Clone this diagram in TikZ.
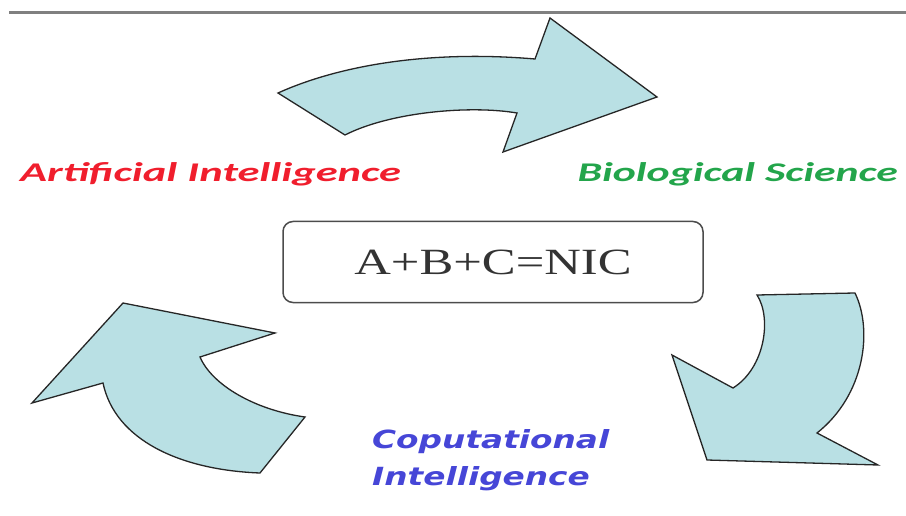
\documentclass[tikz,border=0pt]{standalone}
\usepackage{fontspec}
\setmainfont{Liberation Serif}
\newfontfamily\fieldfont{Carlito}
\newfontfamily\cifont{DejaVu Sans}
\usetikzlibrary{positioning}

\definecolor{arrowfill}{RGB}{185,224,228}
\definecolor{aired}{RGB}{240,30,45}
\definecolor{biogreen}{RGB}{35,165,75}
\definecolor{ciblue}{RGB}{70,70,215}

\newcommand{\widetext}[2]{\scalebox{#1}[1]{#2}}

\tikzset{
  cycarrow/.style={fill=arrowfill, draw=black!85, line width=1.3pt, line join=miter},
  field/.style={font=\fieldfont\bfseries\itshape\fontsize{27}{30}\selectfont, inner sep=0pt},
  cilabel/.style={font=\cifont\bfseries\itshape\fontsize{25}{37}\selectfont, inner sep=0pt, align=left},
  formula/.style={draw=black!70, line width=1.5pt, rounded corners=10pt, minimum width=420pt,
    minimum height=81pt, text=black!80, font=\fontsize{37}{40}\selectfont}
}

\begin{document}
\begin{tikzpicture}[x=1pt,y=-1pt]
  \useasboundingbox (0,0) rectangle (906,516);
  \draw[gray, line width=3pt] (9,13) -- (906,13);

  % three curved arrows round the box
  \draw[cycarrow] (278,93) .. controls (340,65) and (430,50) .. (535,59) -- (550,18) -- (657,97)
    -- (503,152) -- (517,113) .. controls (470,105) and (390,112) .. (345,135) -- cycle;
  \draw[cycarrow] (757,295) -- (855,293) .. controls (873,330) and (865,395) .. (817,433)
    -- (878,465) -- (707,460) -- (672,355) -- (733,388) .. controls (765,368) and (772,318) .. cycle;
  \draw[cycarrow] (32,403) -- (123,303) -- (275,333) -- (200,357) .. controls (212,385) and (255,410) .. (305,417)
    -- (260,473) .. controls (180,470) and (115,440) .. (103,383) -- cycle;

  \node[formula] (nic) at (493,262) {\widetext{1.37}{A+B+C=NIC}};

  \node[field, text=aired, anchor=base west] (ai) at (20,182) {\widetext{1.65}{Artificial Intelligence}};
  \node[field, text=biogreen, anchor=base east] (bs) at (898,182) {\widetext{1.62}{Biological Science}};
  \node[cilabel, text=ciblue, anchor=base west] (ci) at (372,448) {\widetext{1.31}{Coputational}};
  \node[cilabel, text=ciblue, anchor=base west] (ci2) at (372,485) {\widetext{1.31}{Intelligence}};
\end{tikzpicture}
\end{document}
